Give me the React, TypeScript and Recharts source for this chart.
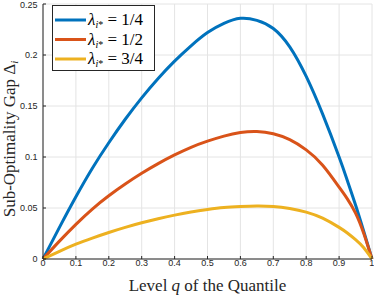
import { CartesianGrid, Label, Legend, Line, LineChart, XAxis, YAxis } from "recharts";

// quantile level q and the gap for each lambda value
const qLevels = [0, 0.05, 0.1, 0.15, 0.2, 0.25, 0.3, 0.35, 0.4, 0.45, 0.5, 0.55, 0.6, 0.65, 0.7, 0.75, 0.8, 0.85, 0.9, 0.925, 0.95, 0.975, 1];
const gapQuarter = [0, 0.031, 0.061, 0.089, 0.114, 0.137, 0.158, 0.177, 0.194, 0.209, 0.222, 0.231, 0.236, 0.234, 0.226, 0.208, 0.179, 0.142, 0.1, 0.077, 0.053, 0.027, 0];
const gapHalf = [0, 0.0175, 0.034, 0.049, 0.062, 0.0735, 0.084, 0.0935, 0.102, 0.1095, 0.1155, 0.1205, 0.124, 0.125, 0.1228, 0.117, 0.107, 0.092, 0.0705, 0.059, 0.045, 0.025, 0];
const gapThreeQuarter = [0, 0.0075, 0.0145, 0.0205, 0.026, 0.031, 0.0355, 0.0395, 0.043, 0.046, 0.0485, 0.0505, 0.0515, 0.052, 0.0515, 0.0495, 0.046, 0.04, 0.031, 0.0255, 0.019, 0.011, 0];

const xTicks = [0, 0.1, 0.2, 0.3, 0.4, 0.5, 0.6, 0.7, 0.8, 0.9, 1];
const yTicks = [0, 0.05, 0.1, 0.15, 0.2, 0.25];

const series = [
  { key: "quarter", frac: "1/4", color: "#0072BD" },
  { key: "half", frac: "1/2", color: "#D95319" },
  { key: "threeQuarter", frac: "3/4", color: "#EDB120" },
];

const chartData = qLevels.map((q, i) => ({
  q,
  quarter: gapQuarter[i],
  half: gapHalf[i],
  threeQuarter: gapThreeQuarter[i],
}));

const AXIS = "#262626";
const SERIF = "'Liberation Serif', 'Times New Roman', serif";
const tickStyle = { fontSize: 9, fill: AXIS, fontFamily: "'Liberation Sans', Arial, sans-serif" };

// legend drawn as svg so it gets the same serif as the axis titles
function LambdaLegend() {
  return (
    <svg width={103} height={66} style={{ display: "block", fontFamily: SERIF }}>
      <rect x={0.5} y={0.5} width={102} height={65} fill="#fff" stroke={AXIS} />
      {series.map((s, i) => {
        const y = 15 + i * 19.5;
        return (
          <g key={s.key}>
            <line x1={3} x2={34} y1={y} y2={y} stroke={s.color} strokeWidth={3} />
            <text x={36} y={y + 5} fontSize={17} fill="#000" style={{ fontFamily: SERIF }}>
              <tspan fontStyle="italic">λ</tspan>
              <tspan fontSize={10} dy={3} fontStyle="italic">i</tspan>
              <tspan fontSize={10}>*</tspan>
              <tspan dy={-3}> = {s.frac}</tspan>
            </text>
          </g>
        );
      })}
    </svg>
  );
}

function XTitle(props: any) {
  const vb = props.viewBox;
  return (
    <text x={vb.x + vb.width / 2} y={vb.y + vb.height - 4} textAnchor="middle" fontFamily={SERIF} fontSize={17} fill={AXIS}>
      Level <tspan fontStyle="italic">q</tspan> of the Quantile
    </text>
  );
}

function YTitle() {
  const x = 15;
  const y = 139;
  return (
    <text x={x} y={y} transform={`rotate(-90, ${x}, ${y})`} textAnchor="middle" fontFamily={SERIF} fontSize={17} fill={AXIS}>
      Sub-Optimality Gap Δ
      <tspan fontStyle="italic" fontSize={11} dy={3}>
        i
      </tspan>
    </text>
  );
}

export default function App() {
  return (
    <div style={{ position: "fixed", left: 0, top: 0, background: "#fff" }}>
      <LineChart width={374} height={295} data={chartData} margin={{ top: 4, right: 2, left: 0, bottom: 0 }}>
        <CartesianGrid stroke="#e4e4e4" strokeWidth={1} />
        <XAxis
          dataKey="q"
          type="number"
          domain={[0, 1]}
          ticks={xTicks}
          height={36}
          tick={tickStyle}
          stroke={AXIS}
          tickSize={-3}
          tickMargin={4}
        >
          <Label content={XTitle} />
        </XAxis>
        <XAxis
          xAxisId="top"
          orientation="top"
          dataKey="q"
          type="number"
          domain={[0, 1]}
          ticks={xTicks}
          height={0}
          stroke={AXIS}
          tickSize={-3}
          tickFormatter={() => ""}
        />
        <YAxis
          type="number"
          domain={[0, 0.25]}
          ticks={yTicks}
          width={43}
          tick={tickStyle}
          stroke={AXIS}
          tickSize={-3}
          tickMargin={8.5}
        >
          <Label content={YTitle} />
        </YAxis>
        <YAxis
          yAxisId="right"
          orientation="right"
          type="number"
          domain={[0, 0.25]}
          ticks={yTicks}
          width={0}
          stroke={AXIS}
          tickSize={-3}
          tickFormatter={() => ""}
        />
        <Legend
          layout="vertical"
          align="center"
          verticalAlign="middle"
          content={() => <LambdaLegend />}
          wrapperStyle={{ left: 52, top: 5, width: "auto" }}
        />
        {series.map((s) => (
          <Line
            key={s.key}
            type="natural"
            dataKey={s.key}
            stroke={s.color}
            strokeWidth={3}
            dot={false}
            isAnimationActive={false}
          />
        ))}
      </LineChart>
    </div>
  );
}
